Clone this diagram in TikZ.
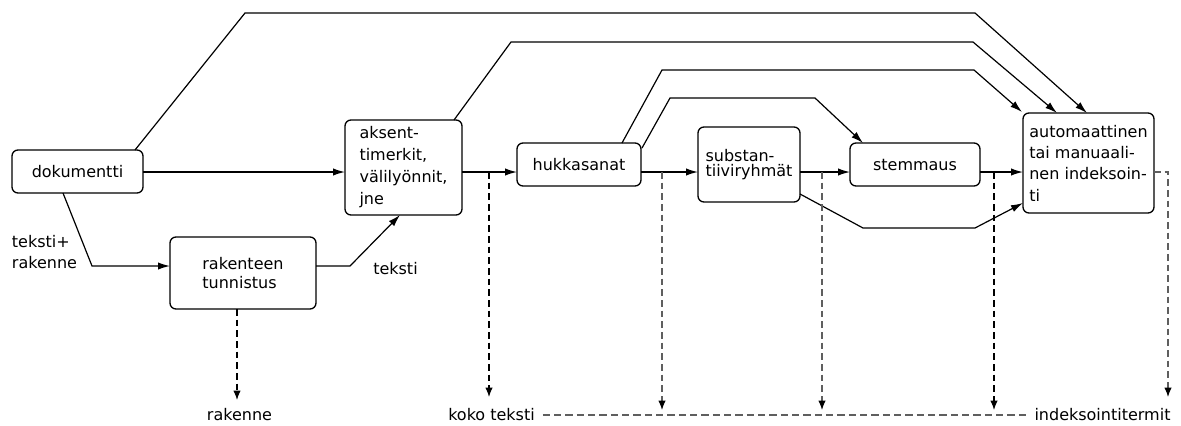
\documentclass[tikz,border=0pt]{standalone}
\usepackage{fontspec}
\setmainfont{DejaVu Sans}
\usetikzlibrary{arrows.meta,calc}
\definecolor{dashgray}{RGB}{95,95,95}

\begin{document}
\begin{tikzpicture}[x=0.75pt,y=-0.75pt,
  font=\fontsize{12}{16}\selectfont,
  box/.style={draw, line width=1pt, rounded corners=4.5pt, inner sep=0pt,
    outer sep=0pt, align=left},
  size/.style 2 args={minimum width=#1*0.75pt, minimum height=#2*0.75pt},
  lbl/.style={inner sep=0pt, outer sep=0pt},
  flow/.style={line width=0.9pt, -{Latex[length=9pt,width=5.5pt]}},
  outd/.style={line width=0.9pt, dash pattern=on 5pt off 3pt,
    -{Latex[length=7pt,width=5.5pt,color=black]}},
  outg/.style={outd, dashgray},
  rowline/.style={line width=0.9pt, dash pattern=on 5.5pt off 3pt, dashgray}]
\useasboundingbox (0,0) rectangle (1181,425);

% processing steps
\node[box, size={131}{43}] (dok) at (77.5,171.5) {dokumentti};
\node[box, size={117}{95}, font=\fontsize{12}{16.5}\selectfont] (aks) at (403.5,167.5)
  {aksent-\\timerkit,\\välilyönnit,\\jne};
\node[box, size={124}{43}] (huk) at (579,164.5) {hukkasanat};
\node[box, size={102}{75}, font=\fontsize{12}{11}\selectfont] (sub) at (749,164.5)
  {substan-\\tiiviryhmät};
\node[box, size={130}{43}] (stem) at (915,164.5) {stemmaus};
\node[box, size={131}{100}, font=\fontsize{12}{16}\selectfont] (auto) at (1088.5,163)
  {automaattinen\\tai manuaali-\\nen indeksoin-\\ti};
\node[box, size={146}{72}, font=\fontsize{12}{14.5}\selectfont] (rak) at (243,273)
  {rakenteen\\tunnistus};

% labels
\node[lbl, align=left, font=\fontsize{12}{15.75}\selectfont] (tr) at (44.5,252.5)
  {teksti+\\rakenne};
\node[lbl] (tk) at (395.5,269) {teksti};
\node[lbl] (rakl) at (239.5,415) {rakenne};
\node[lbl] (koko) at (491.5,415) {koko teksti};
\node[lbl] (idx) at (1102.5,415) {indeksointitermit};

% main row and its branch points
\coordinate (row) at (0,172);
\coordinate (j1) at (489,172);
\coordinate (j2) at (662,172);
\coordinate (j3) at (822,172);
\coordinate (j4) at (994,172);
\coordinate (j5) at (1168,172);
\coordinate (e1) at (489,397);
\coordinate (e2) at (662,410);
\coordinate (e3) at (822,410);
\coordinate (e4) at (994,410);
\coordinate (e5) at (1168,397);
\coordinate (er) at (237,400);

\draw[flow] (dok.east |- row) -- (aks.west |- row);
\draw[flow] (aks.east |- row) -- (huk.west |- row);
\draw[flow] (huk.east |- row) -- (sub.west |- row);
\draw[flow] (sub.east |- row) -- (stem.west |- row);
\draw[flow] (stem.east |- row) -- (auto.west |- row);

% structure recognition branch
\coordinate (b1) at (92,266);
\coordinate (b2) at (350,266);
\draw[flow] ($(dok.south west)+(51,0)$) -- (b1) -- (rak.west |- b1);
\draw[flow] (rak.east |- b2) -- (b2) -- ($(aks.south west)+(55,0)$);

% bypass connections over the top
\draw[flow] ($(dok.north east)+(-8,0)$) -- (245,13) -- (975,13)
  -- ($(auto.north west)+(64,0)$);
\draw[flow] ($(aks.north east)+(-8,0)$) -- (511,42) -- (973,42)
  -- ($(auto.north west)+(34,0)$);
\draw[flow] ($(huk.north east)+(-19,0)$) -- (662,70) -- (974,70)
  -- ($(auto.north west)+(-1,-1)$);
\draw[flow] ($(huk.north east)+(1,5)$) -- (670,98) -- (815,98)
  -- ($(stem.north west)+(13,0)$);
\draw[flow] ($(sub.south east)+(0,-8)$) -- (863,228) -- (975,228)
  -- ($(auto.south west)+(0,-10)$);

% outputs
\draw[outd] (rak.south -| er) -- (er);
\draw[outd] (j1) -- (e1);
\draw[outg] (j2) -- (e2);
\draw[outg] (j3) -- (e3);
\draw[outd] (j4) -- (e4);
\draw[outg] (auto.east |- row) -- (j5) -- (e5);
\draw[rowline] ($(koko.east)+(8,0)$) -- ($(koko.east -| idx.west)+(-7,0)$);
\end{tikzpicture}
\end{document}
